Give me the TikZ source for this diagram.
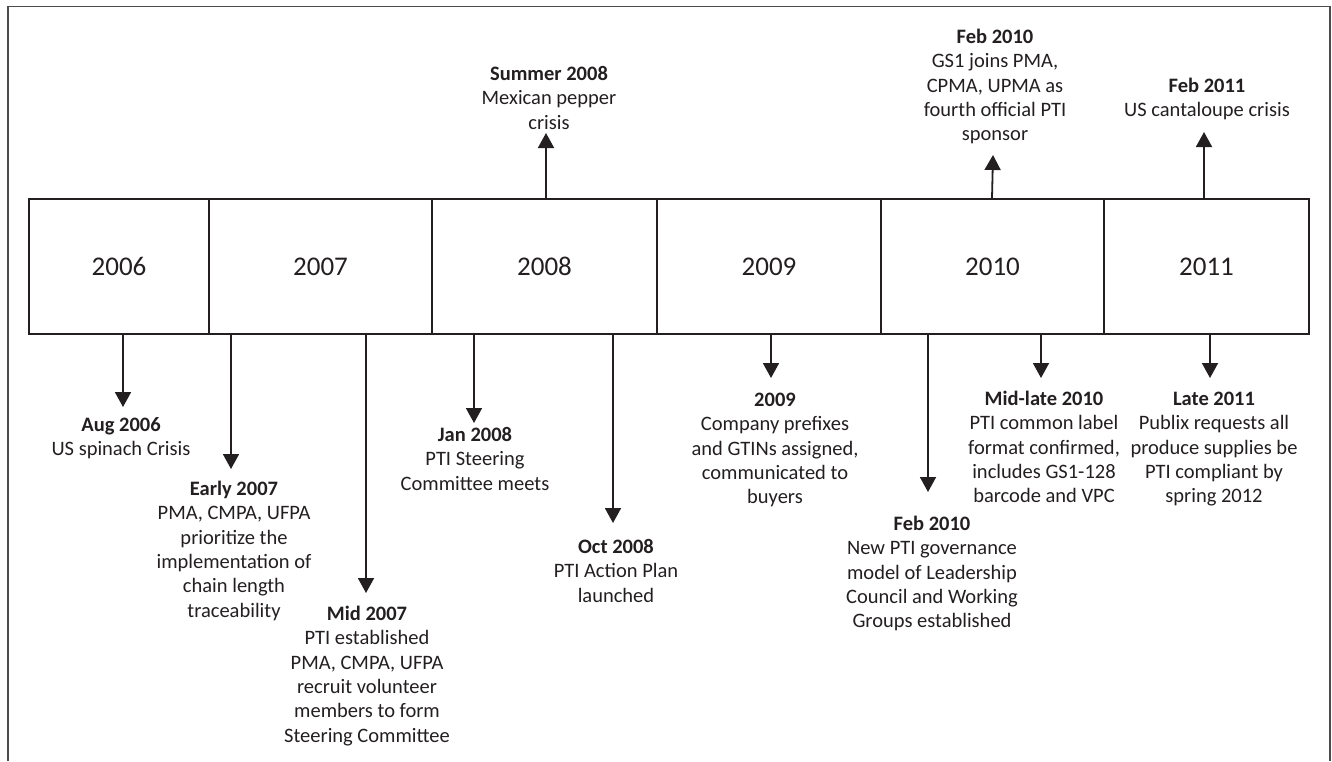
\documentclass[tikz,border=0pt]{standalone}
\usepackage{fontspec}
\setmainfont{Carlito}
\usetikzlibrary{arrows.meta}
\definecolor{ink}{HTML}{231F20}
% first line carries a fixed-height strut so that each note hangs from its north anchor
\newcommand\eventtext[2]{\rule{0pt}{15pt}\textbf{#1}\\#2}

\begin{document}
\begin{tikzpicture}[x=1pt,y=-1pt,
  yearbox/.style={draw=ink, line width=1.8pt, minimum height=135pt, inner sep=0pt,
    text=ink, font=\fontsize{27}{32}\selectfont},
  note/.style={anchor=north, inner sep=0pt, outer sep=0pt, align=center, text=ink,
    font=\fontsize{20.5}{24.3}\selectfont},
  link/.style={draw=ink, line width=1.8pt, -{Triangle[length=15pt,width=16pt]}},
  framing/.style={draw=black!70, line width=1.3pt}]

\useasboundingbox (0,0) rectangle (1332,761);

% surrounding frame, open at the bottom
\draw[framing] (8,761) -- (8,6.3) -- (1330,6.3) -- (1330,761);

% the year strip
\node[yearbox, minimum width=180pt] (y2006) at (119,266.5)   {2006};
\node[yearbox, minimum width=223pt] (y2007) at (320.5,266.5) {2007};
\node[yearbox, minimum width=225pt] (y2008) at (544.5,266.5) {2008};
\node[yearbox, minimum width=224pt] (y2009) at (769,266.5)   {2009};
\node[yearbox, minimum width=223pt] (y2010) at (992.5,266.5) {2010};
\node[yearbox, minimum width=205pt] (y2011) at (1206.5,266.5){2011};

% arrow tips
\coordinate (t1)  at (123,407);
\coordinate (t2)  at (231,469);
\coordinate (t3)  at (366,593);
\coordinate (t4)  at (474,423);
\coordinate (t5)  at (613,523);
\coordinate (t6)  at (771,378);
\coordinate (t7)  at (928,492);
\coordinate (t8)  at (1041,378);
\coordinate (t9)  at (1210,378);
\coordinate (t10) at (546,133);
\coordinate (t11) at (993,155);
\coordinate (t12) at (1204,132);

% events below the strip
\node[note] (n1) at (121,416.6) {\eventtext{Aug 2006}{US spinach Crisis}};
\node[note] (n2) at (234,480.6) {\eventtext{Early 2007}{PMA, CMPA, UFPA\\prioritize the\\implementation of\\chain length\\traceability}};
\node[note] (n3) at (367,605.6) {\eventtext{Mid 2007}{PTI established\\PMA, CMPA, UFPA\\recruit volunteer\\members to form\\Steering Committee}};
\node[note] (n4) at (475,426.6) {\eventtext{Jan 2008}{PTI Steering\\Committee meets}};
\node[note] (n5) at (616,538.6) {\eventtext{Oct 2008}{PTI Action Plan\\launched}};
\node[note] (n6) at (775,391.6) {\eventtext{2009}{Company prefixes\\and GTINs assigned,\\communicated to\\buyers}};
\node[note] (n7) at (932,515.6) {\eventtext{Feb 2010}{New PTI governance\\model of Leadership\\Council and Working\\Groups established}};
\node[note] (n8) at (1044,390.6) {\eventtext{Mid-late 2010}{PTI common label\\format confirmed,\\includes GS1-128\\barcode and VPC}};
\node[note] (n9) at (1214,390.6) {\eventtext{Late 2011}{Publix requests all\\produce supplies be\\PTI compliant by\\spring 2012}};

% events above the strip
\node[note] (n10) at (549,65.6) {\eventtext{Summer 2008}{Mexican pepper\\crisis}};
\node[note] (n11) at (995,28.6) {\eventtext{Feb 2010}{GS1 joins PMA,\\CPMA, UPMA as\\fourth official PTI\\sponsor}};
\node[note] (n12) at (1207,77.6) {\eventtext{Feb 2011}{US cantaloupe crisis}};

% connectors
\draw[link] (y2006.south -| t1) -- (t1);
\draw[link] (y2007.south -| t2) -- (t2);
\draw[link] (y2007.south -| t3) -- (t3);
\draw[link] (y2008.south -| t4) -- (t4);
\draw[link] (y2008.south -| t5) -- (t5);
\draw[link] (y2009.south -| t6) -- (t6);
\draw[link] (y2010.south -| t7) -- (t7);
\draw[link] (y2010.south -| t8) -- (t8);
\draw[link] (y2011.south -| t9) -- (t9);
\draw[link] (y2008.north -| t10) -- (t10);
\draw[link] ([xshift=-1pt]y2010.north -| t11) -- (t11);
\draw[link] (y2011.north -| t12) -- (t12);
\end{tikzpicture}
\end{document}
